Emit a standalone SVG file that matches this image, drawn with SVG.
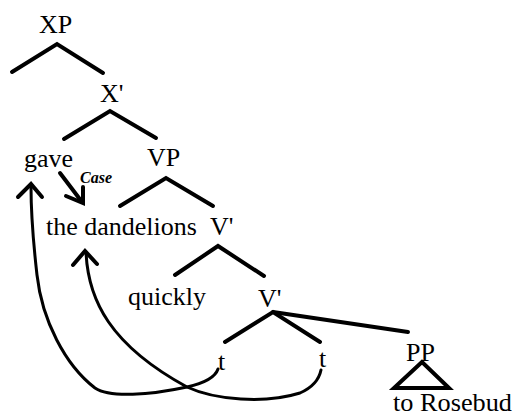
<svg xmlns="http://www.w3.org/2000/svg" width="516" height="417" viewBox="0 0 516 417">
<style>
text{font-family:"Liberation Serif","Times New Roman",serif;font-size:26px;fill:#000}
.case{font-size:16px;font-style:italic;font-weight:bold}
.br{fill:none;stroke:#000;stroke-width:4;stroke-linecap:round;stroke-linejoin:miter}
.cv{fill:none;stroke:#000;stroke-width:3;stroke-linecap:round;stroke-linejoin:round}
.ah{fill:none;stroke:#000;stroke-width:4;stroke-linecap:round;stroke-linejoin:miter}
</style>
<rect width="516" height="417" fill="#fff"/>
<g id="connectors">
<polyline class="br" points="12,72 57,44 103,73"/>
<polyline class="br" points="64,139 110,111 156,138"/>
<polyline class="br" points="120,206 166,178 213,206"/>
<polyline class="br" points="175,275 218,246 264,276"/>
<polyline class="br" points="225,342 273,312 320,342"/>
<line class="br" x1="273" y1="312" x2="408" y2="332"/>
<polygon class="br" points="422,362 394,388 449,388"/>
<line class="ah" x1="60" y1="173" x2="82" y2="202"/>
<polyline class="ah" points="66,196 83,203 83,187"/>
<path class="cv" d="M218,369 Q214,381 187,387 C150,395 110,398 95,388 C65,365 42,320 37,275 C33,240 31,210 31,186"/>
<polyline class="ah" points="18,197 31,184 42,197"/>
<path class="cv" d="M86,252 C88,300 110,345 187,387 C215,400 265,404 300,393 Q318,385 321,370"/>
<polyline class="ah" points="73,265 85,251 97,264"/>
</g>
<g id="XP"><text x="39" y="33">XP</text></g>
<g id="Xbar"><text x="100" y="102">X'</text></g>
<g id="gave"><text x="24" y="167">gave</text></g>
<g id="VP"><text x="147" y="166">VP</text></g>
<g id="case"><text class="case" x="80" y="183">Case</text></g>
<g id="dandelions"><text x="46" y="235">the dandelions</text></g>
<g id="Vbar1"><text x="210" y="235">V'</text></g>
<g id="quickly"><text x="128" y="305">quickly</text></g>
<g id="Vbar2"><text x="258" y="307">V'</text></g>
<g id="t1"><text x="218" y="370">t</text></g>
<g id="t2"><text x="319" y="367">t</text></g>
<g id="PP"><text x="406" y="361">PP</text></g>
<g id="rosebud"><text x="393" y="411" style="font-size:25px" textLength="119" lengthAdjust="spacingAndGlyphs">to Rosebud</text></g>
</svg>
